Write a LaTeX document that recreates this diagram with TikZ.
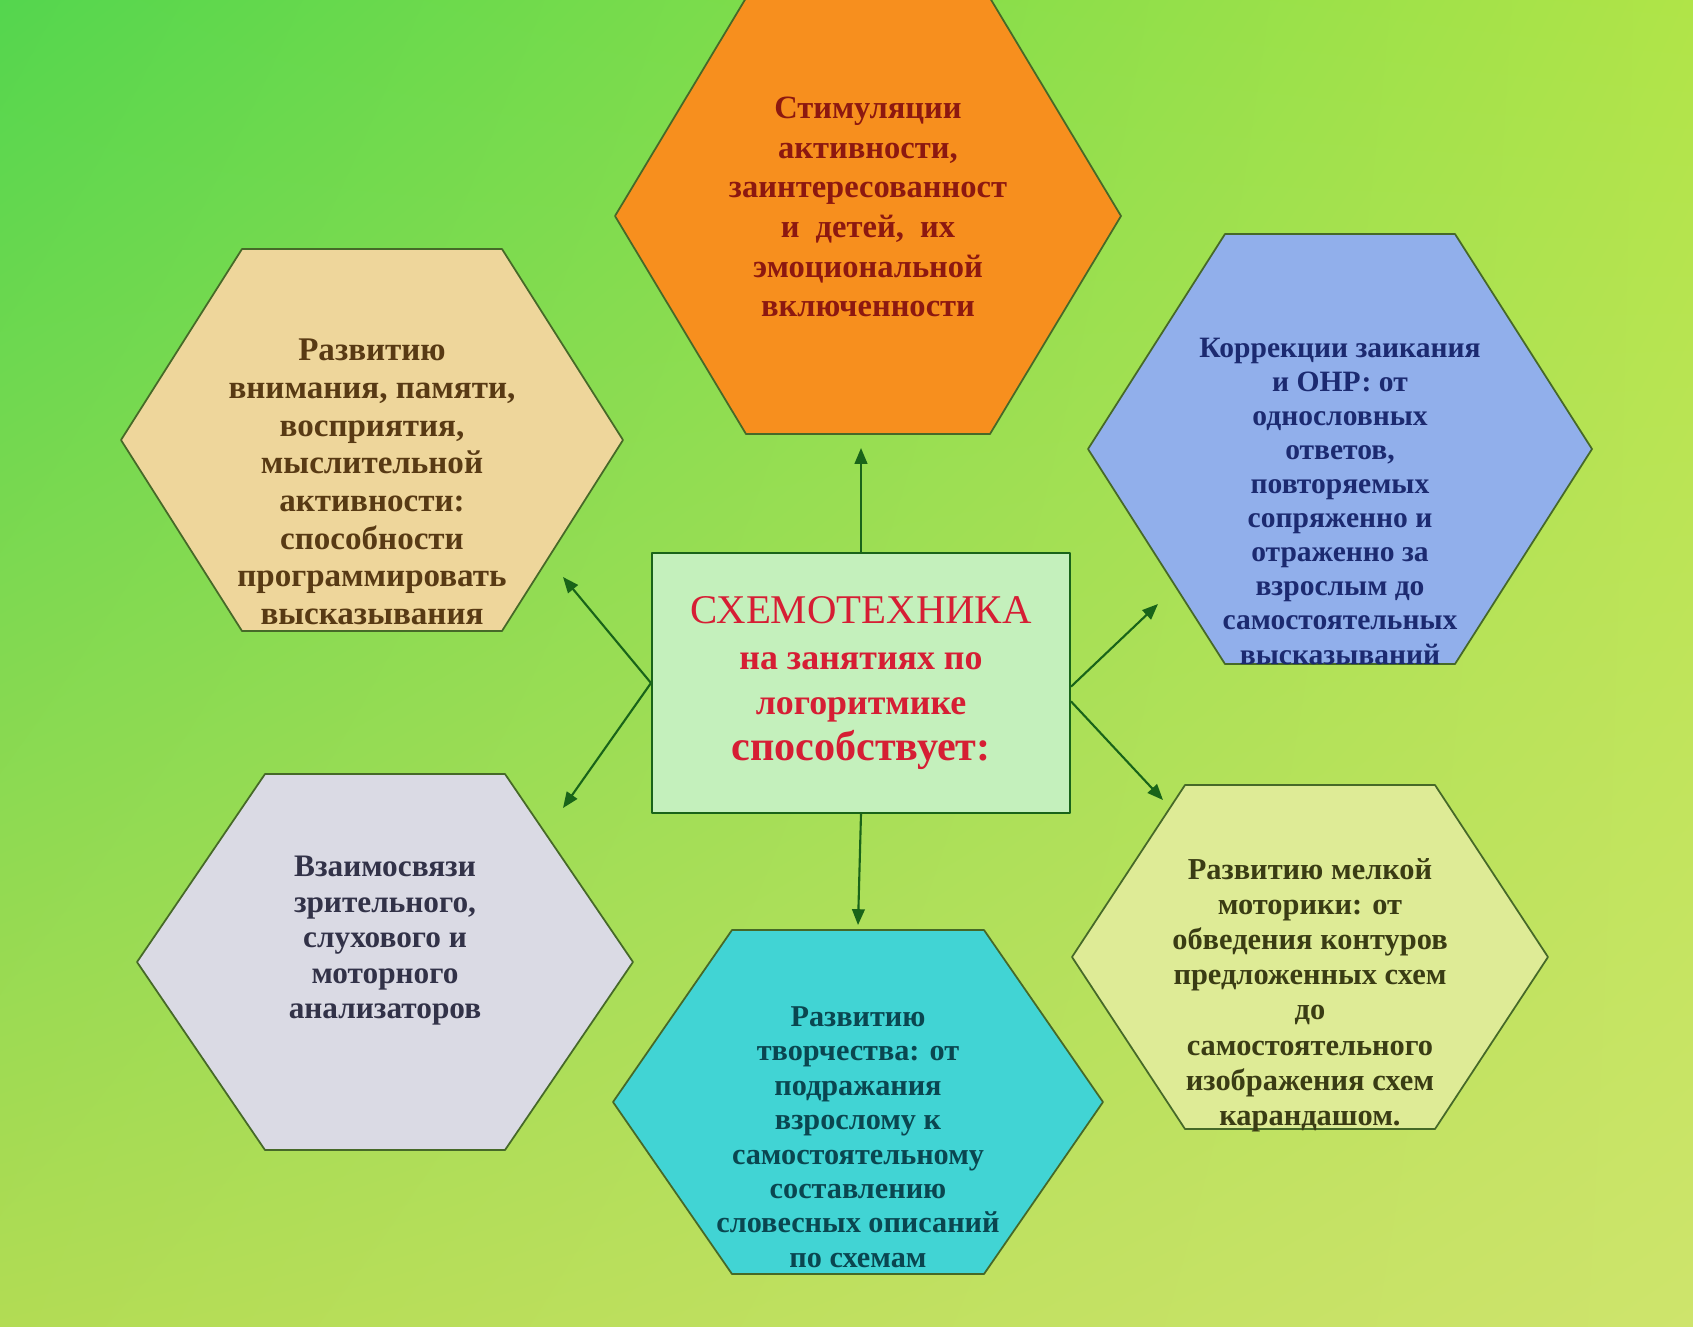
\documentclass[tikz,border=0pt]{standalone}
\usepackage{fontspec}
\setmainfont{Liberation Serif}
\usetikzlibrary{arrows.meta,shadings}
\definecolor{bgTL}{RGB}{84,214,78}
\definecolor{bgTR}{RGB}{176,228,72}
\definecolor{bgBL}{RGB}{178,220,84}
\definecolor{bgBR}{RGB}{206,228,108}
\definecolor{hexline}{RGB}{70,105,40}
\definecolor{linkgreen}{RGB}{25,100,25}
\definecolor{hexOrange}{RGB}{247,143,30}
\definecolor{hexBeige}{RGB}{238,214,155}
\definecolor{hexBlue}{RGB}{145,175,235}
\definecolor{hexGrey}{RGB}{218,218,228}
\definecolor{hexCyan}{RGB}{65,212,212}
\definecolor{hexYellow}{RGB}{222,235,150}
\definecolor{boxfill}{RGB}{196,240,188}
\definecolor{txtRed}{RGB}{140,24,16}
\definecolor{txtBrown}{RGB}{88,58,20}
\definecolor{txtNavy}{RGB}{28,42,112}
\definecolor{txtGrey}{RGB}{50,50,72}
\definecolor{txtTeal}{RGB}{10,70,80}
\definecolor{txtOlive}{RGB}{58,60,20}
\definecolor{txtTitle}{RGB}{214,30,52}
\tikzset{
  hexa/.style={draw=hexline, line width=0.5pt},
  hextext/.style n args={3}{align=center, inner sep=0pt, text=#1, font=\bfseries\fontsize{#2}{#3}\selectfont},
  link/.style={->, draw=linkgreen, fill=linkgreen, line width=0.6pt},
}
\begin{document}
\begin{tikzpicture}[x=0.01cm, y=-0.01cm, line join=round, >={Triangle[length=4.5pt,width=3.6pt]}]
  \useasboundingbox (0,0) rectangle (1693,1326);
  \shade[upper left=bgTL, upper right=bgTR, lower left=bgBL, lower right=bgBR] (0,0) rectangle (1693,1326);
  % hexagons: centre x / centre y / half width / half top side / half height / fill
  \foreach \cx/\cy/\a/\b/\h/\col in {868/216/253/122/218/hexOrange, 372/440/251/130/191/hexBeige,
      1340/449/252/115/215/hexBlue, 385/962/248/120/188/hexGrey,
      858/1102/245/126/172/hexCyan, 1310/957/238/125/172/hexYellow}
    \filldraw[hexa, fill=\col] (\cx-\a,\cy) -- (\cx-\b,\cy-\h) -- (\cx+\b,\cy-\h)
      -- (\cx+\a,\cy) -- (\cx+\b,\cy+\h) -- (\cx-\b,\cy+\h) -- cycle;

  \node[hextext={txtRed}{9.25}{11.3pt}] (stim) at (868,207) {Стимуляции\\ активности,\\ заинтересованност\\ и~ детей,~ их\\ эмоциональной\\ включенности};
  \node[hextext={txtBrown}{9.4}{10.7pt}] (vnim) at (372,482) {Развитию\\ внимания, памяти,\\ восприятия,\\ мыслительной\\ активности:\\ способности\\ программировать\\ высказывания};
  \node[hextext={txtNavy}{8.4}{9.7pt}] (korr) at (1340,501) {Коррекции заикания\\ и ОНР: от\\ однословных\\ ответов,\\ повторяемых\\ сопряженно и\\ отраженно за\\ взрослым до\\ самостоятельных\\ высказываний};
  \node[hextext={txtGrey}{8.9}{10.1pt}] (vzai) at (385,941) {Взаимосвязи\\ зрительного,\\ слухового и\\ моторного\\ анализаторов};
  \node[hextext={txtTeal}{8.6}{9.8pt}] (tvor) at (858,1137) {Развитию\\ творчества: от\\ подражания\\ взрослому к\\ самостоятельному\\ составлению\\ словесных описаний\\ по схемам};
  \node[hextext={txtOlive}{8.65}{10pt}] (melk) at (1310,995) {Развитию мелкой\\ моторики: от\\ обведения контуров\\ предложенных схем\\ до\\ самостоятельного\\ изображения схем\\ карандашом.};

  % centre box
  \node[draw=linkgreen, fill=boxfill, line width=0.5pt, minimum width=4.18cm, minimum height=2.6cm,
        align=center, text=txtTitle, font=\bfseries\fontsize{10.2}{13}\selectfont] (box) at (861,683)
    {{\mdseries\fontsize{11.6}{13}\selectfont СХЕМОТЕХНИКА}\\ на занятиях по\\ логоритмике\\ {\fontsize{12}{13}\selectfont способствует:}};

  \coordinate (tipA) at (861,448);
  \coordinate (tipB) at (563,577);
  \coordinate (tipC) at (563,808);
  \coordinate (tipD) at (1158,604);
  \coordinate (tipE) at (1163,800);
  \coordinate (tipF) at (858,925);
  \foreach \s/\t in {north/tipA, west/tipB, west/tipC, -1/tipD, -5/tipE, south/tipF}
    \draw[link] (box.\s) -- (\t);
\end{tikzpicture}
\end{document}
